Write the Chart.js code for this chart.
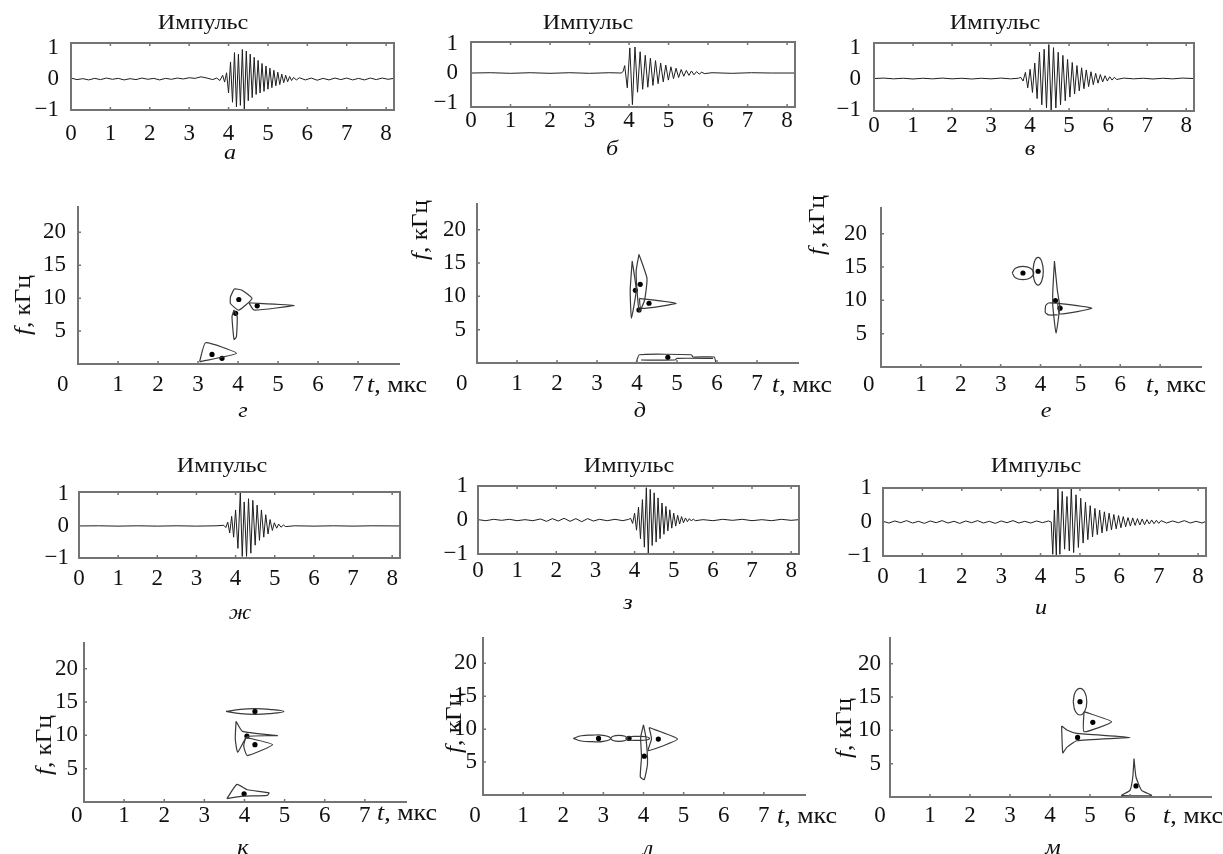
<!DOCTYPE html>
<html lang="ru">
<head>
<meta charset="utf-8">
<title>Импульсы</title>
<script src="https://cdn.jsdelivr.net/npm/chart.js@4.4.1/dist/chart.umd.min.js"></script>
<style>
  html, body { margin: 0; padding: 0; background: #fff; }
  body { position: relative; width: 1223px; height: 854px; overflow: hidden;
         font-family: "Liberation Serif", "Times New Roman", serif; color: #111; }
  canvas { position: absolute; }
  .lbl { position: absolute; font-size: 22px; line-height: 1; white-space: nowrap; transform: translate(-50%, -50%) scaleX(1.1); }
  .sub { font-style: italic; }
  .rot { font-size: 24px; transform: translate(-50%, -50%) rotate(-90deg) scaleX(1.05); }
  .left { font-size: 24px; transform-origin: 0 50%; transform: translate(0, -50%) scaleX(1.08); }
</style>
</head>
<body>
<script>
// signals "Импульс", [t, amplitude]
const sigA = [[0,0.03],[0.15,-0.02],[0.3,0.01],[0.45,-0.03],[0.6,0.02],[0.75,-0.02],[0.9,0.03],[1.05,-0.01],[1.2,0.02],[1.35,-0.03],[1.5,0.01],[1.65,-0.02],[1.8,0.03],[1.95,-0.01],[2.1,0.02],[2.25,-0.03],[2.4,0.02],[2.55,-0.01],[2.7,0.03],[2.85,0.0],[3.0,0.04],[3.15,0.02],[3.3,0.07],[3.45,0.03],[3.6,-0.02],[3.7,0.03],[3.78,-0.05],[3.85,0.12],[3.9,-0.1],[3.95,0.2],
  [4.0,-0.45],[4.05,0.55],[4.1,-0.75],[4.15,0.85],[4.2,-0.9],[4.25,0.8],[4.3,-0.85],[4.35,0.95],[4.4,-1.0],[4.45,0.9],[4.5,-0.7],[4.55,0.8],[4.6,-0.6],[4.65,0.7],[4.7,-0.5],[4.75,0.6],[4.8,-0.45],[4.85,0.5],[4.9,-0.4],[4.95,0.42],[5.0,-0.33],[5.05,0.35],[5.1,-0.28],[5.15,0.28],[5.2,-0.22],[5.25,0.22],[5.3,-0.18],[5.35,0.16],[5.4,-0.12],[5.45,0.12],[5.5,-0.09],[5.55,0.08],[5.6,-0.05],[5.65,0.05],
  [5.72,-0.03],[5.8,0.04],[5.95,-0.03],[6.1,0.03],[6.25,-0.04],[6.4,0.02],[6.55,-0.03],[6.7,0.03],[6.85,-0.02],[7.0,0.03],[7.15,-0.03],[7.3,0.02],[7.45,-0.03],[7.6,0.03],[7.75,-0.02],[7.9,0.03],[8.05,-0.01],[8.2,0.02]];

const sigB = [[0,0],[0.5,0.01],[1,-0.01],[1.5,0.01],[2,-0.01],[2.5,0.01],[3,-0.01],[3.5,0.01],[3.8,0],[3.85,0.05],
  [3.89,0.25],[3.955,-0.5],[4.02,0.85],[4.085,-1.07],[4.15,0.88],[4.215,-0.65],[4.28,0.72],[4.345,-0.55],[4.41,0.6],[4.475,-0.48],[4.54,0.5],[4.605,-0.42],[4.67,0.42],[4.735,-0.36],[4.8,0.34],[4.865,-0.3],[4.93,0.27],[4.995,-0.24],[5.06,0.21],[5.125,-0.19],[5.19,0.16],[5.255,-0.15],[5.32,0.12],[5.385,-0.11],[5.45,0.09],[5.515,-0.08],[5.58,0.07],[5.645,-0.06],[5.71,0.05],[5.775,-0.04],[5.84,0.03],[5.905,-0.02],
  [6.1,0.01],[6.6,-0.01],[7.1,0.01],[7.6,0],[8.2,0]];

const sigV = [[0,0],[0.25,0.015],[0.5,-0.01],[0.75,0.01],[1,-0.015],[1.25,0.01],[1.5,-0.01],[1.75,0.015],[2,-0.01],[2.25,0.01],[2.5,-0.015],[2.75,0.01],[3,-0.01],[3.25,0.015],[3.5,-0.01],[3.7,0.01],
  [3.76,0.04],[3.82,-0.08],[3.88,0.2],[3.94,-0.3],[4.0,0.3],[4.06,-0.45],[4.12,0.5],[4.18,-0.65],[4.24,0.85],[4.3,-0.85],[4.36,0.95],[4.42,-0.95],[4.48,1.1],[4.54,-1.05],[4.6,1.0],[4.66,-0.95],[4.72,0.85],[4.78,-0.85],[4.84,0.75],[4.9,-0.72],[4.96,0.62],[5.02,-0.6],[5.08,0.52],[5.14,-0.5],[5.2,0.42],[5.26,-0.4],[5.32,0.35],[5.38,-0.33],[5.44,0.28],[5.5,-0.26],[5.56,0.22],[5.62,-0.2],[5.68,0.17],[5.74,-0.15],[5.8,0.13],[5.86,-0.11],[5.92,0.09],[5.98,-0.08],[6.04,0.06],[6.1,-0.05],[6.16,0.04],[6.22,-0.03],
  [6.4,0.015],[6.65,-0.01],[6.9,0.01],[7.15,-0.015],[7.4,0.01],[7.65,-0.01],[7.9,0.015],[8.2,0]];

const sigZh = [[0,0],[0.5,0.005],[1,-0.005],[1.5,0.005],[2,-0.005],[2.5,0.005],[3,-0.005],[3.5,0.005],
  [3.7,0.02],[3.75,-0.05],[3.8,0.12],[3.85,-0.22],[3.9,0.3],[3.95,-0.35],[4.0,0.5],[4.06,-0.7],[4.12,1.05],[4.17,-0.95],[4.22,0.75],[4.28,-0.95],[4.33,0.85],[4.39,-0.85],[4.44,0.8],[4.5,-0.6],[4.55,0.65],[4.61,-0.45],[4.66,0.5],[4.72,-0.35],[4.77,0.35],[4.83,-0.25],[4.88,0.2],[4.94,-0.14],[4.99,0.1],[5.05,-0.07],[5.1,0.06],[5.16,-0.04],[5.22,0.03],[5.28,-0.02],
  [5.5,0.005],[6,-0.005],[6.5,0.005],[7,-0.005],[7.5,0.005],[8.2,0]];

const sigZ = [[0,0.01],[0.2,-0.02],[0.4,0.02],[0.6,-0.01],[0.8,0.02],[1.0,-0.02],[1.2,0.01],[1.4,-0.02],[1.6,0.03],[1.75,-0.04],[1.9,0.04],[2.05,-0.03],[2.2,0.05],[2.35,-0.04],[2.5,0.04],[2.65,-0.05],[2.8,0.04],[2.95,-0.03],[3.1,0.02],[3.3,-0.02],[3.5,0.02],[3.7,-0.02],[3.85,0.02],
  [3.9,0.05],[3.95,-0.1],[4.0,0.2],[4.05,-0.3],[4.1,0.38],[4.15,-0.55],[4.2,0.6],[4.25,-0.8],[4.3,0.95],[4.35,-1.0],[4.4,0.9],[4.45,-0.75],[4.5,0.8],[4.55,-0.65],[4.6,0.65],[4.65,-0.55],[4.7,0.5],[4.75,-0.42],[4.8,0.4],[4.85,-0.32],[4.9,0.3],[4.95,-0.24],[5.0,0.2],[5.05,-0.18],[5.1,0.14],[5.15,-0.12],[5.2,0.1],[5.25,-0.08],[5.3,0.06],[5.35,-0.05],[5.4,0.04],[5.45,-0.03],[5.5,0.03],[5.55,-0.02],
  [5.75,0.01],[6.0,-0.02],[6.25,0.02],[6.5,-0.01],[6.75,0.02],[7.0,-0.02],[7.25,0.01],[7.5,-0.02],[7.75,0.02],[8.0,-0.01],[8.2,0.01]];

const sigI = [[0,0.02],[0.15,-0.03],[0.3,0.03],[0.45,-0.02],[0.6,0.04],[0.75,-0.03],[0.9,0.02],[1.05,-0.04],[1.2,0.03],[1.35,-0.02],[1.5,0.04],[1.65,-0.03],[1.8,0.02],[1.95,-0.04],[2.1,0.03],[2.25,-0.02],[2.4,0.04],[2.55,-0.03],[2.7,0.02],[2.85,-0.04],[3.0,0.03],[3.15,-0.02],[3.3,0.04],[3.45,-0.03],[3.6,0.02],[3.75,-0.03],[3.9,0.03],[4.05,-0.02],[4.2,0.03],[4.27,0.0],
  [4.31,-0.95],[4.35,0.35],[4.4,-0.98],[4.44,1.0],[4.49,-0.95],[4.55,0.9],[4.61,-0.8],[4.67,0.75],[4.73,-0.85],[4.78,1.0],[4.84,-0.9],[4.9,0.8],[4.96,-0.75],[5.02,0.7],[5.08,-0.62],[5.14,0.58],[5.2,-0.52],[5.26,0.48],[5.32,-0.44],[5.38,0.4],[5.44,-0.37],[5.5,0.35],[5.56,-0.32],[5.62,0.3],[5.68,-0.27],[5.74,0.26],[5.8,-0.23],[5.86,0.22],[5.92,-0.2],[5.98,0.19],[6.04,-0.17],[6.1,0.16],[6.16,-0.14],[6.22,0.13],[6.28,-0.12],[6.34,0.12],[6.4,-0.1],[6.46,0.1],[6.52,-0.09],[6.58,0.09],[6.64,-0.08],[6.7,0.07],[6.76,-0.06],[6.82,0.06],[6.88,-0.05],[6.94,0.05],[7.0,-0.04],[7.06,0.04],
  [7.2,-0.03],[7.35,0.03],[7.5,-0.02],[7.65,0.04],[7.8,-0.03],[7.95,0.02],[8.1,-0.03],[8.2,0.02]];

// time-frequency maps: outlines, ovals and centre dots as [t, f]
const outlineG = [
  [[3.81,10.2],[3.91,11.4],[4.10,11.2],[4.35,9.95],[4.02,8.18],[3.81,9.19],[3.81,10.2]],
  [[4.27,9.3],[5.40,8.9],[4.40,8.2],[4.27,9.3]],
  [[3.90,8.2],[3.98,7.2],[3.96,4.1],[3.90,3.75],[3.85,7.2],[3.90,8.2]],
  [[3.04,0.35],[3.19,3.23],[3.96,1.62],[3.04,0.35]]
];
const dotsG = [[4.02,9.8],[3.94,7.7],[4.48,8.84],[3.35,1.46],[3.6,0.86]];

const outlineD = [
  [[3.88,15.3],[3.98,10.9],[3.86,6.7],[3.83,10.9],[3.88,15.3]],
  [[4.05,16.3],[4.25,12.7],[4.19,9.45],[4.06,7.7],[4.0,10.9],[3.98,13.9],[4.05,16.3]],
  [[4.06,9.7],[4.98,8.96],[4.1,8.2],[4.06,9.7]],
  [[3.98,0.1],[4.06,1.24],[5.36,1.24],[5.4,0.9],[5.93,0.9],[5.97,0.1]],
  [[4.1,0.45],[4.95,0.45],[5.0,0.7],[5.9,0.7]]
];
const dotsD = [[3.96,10.9],[4.08,11.8],[4.3,8.96],[4.05,7.96],[4.77,0.85]];

const ovalE = [
  [[3.29,14.1],[3.37,14.81],[3.56,15.1],[3.75,14.81],[3.83,14.1],[3.75,13.39],[3.56,13.1],[3.37,13.39],[3.29,14.1]],
  [[3.81,14.36],[3.85,15.82],[3.94,16.43],[4.03,15.82],[4.07,14.36],[4.03,12.9],[3.94,12.29],[3.85,12.9],[3.81,14.36]]
];
const outlineE = [
  [[4.35,15.9],[4.42,11.6],[4.48,9.07],[4.39,5.04],[4.31,9.07],[4.31,11.6],[4.35,15.9]],
  [[4.43,9.57],[4.2,9.6],[4.13,9.2],[4.12,8.2],[4.2,7.81],[4.43,7.81]],
  [[4.43,9.57],[5.29,8.82],[4.48,7.96],[4.43,9.57]]
];
const dotsE = [[3.56,14.1],[3.94,14.36],[4.375,9.97],[4.49,8.82]];

const ovalK = [
  [[3.54,13.58],[3.9,13.9],[4.26,14.0],[4.62,13.9],[4.98,13.58],[4.62,13.25],[4.26,13.15],[3.9,13.25],[3.54,13.58]]
];
const outlineK = [
  [[3.79,12.1],[3.95,10.6],[4.82,9.95],[4.07,9.8],[3.83,7.46],[3.77,9.5],[3.79,12.1]],
  [[4.03,9.7],[4.7,8.6],[4.07,6.97],[3.98,8.4],[4.03,9.7]],
  [[3.56,0.5],[3.81,2.64],[4.07,1.84],[4.61,1.39],[4.57,1.0],[3.91,0.85],[3.56,0.5]]
];
const dotsK = [[4.26,13.58],[4.06,9.9],[4.26,8.6],[3.99,1.24]];

const ovalL = [
  [[2.25,8.6],[2.45,9.0],[2.72,9.1],[3.0,9.05],[3.18,8.6],[3.0,8.15],[2.72,8.1],[2.45,8.2],[2.25,8.6]],
  [[3.18,8.6],[3.24,8.92],[3.39,9.05],[3.54,8.92],[3.6,8.6],[3.54,8.28],[3.39,8.15],[3.24,8.28],[3.18,8.6]],
  [[3.55,8.6],[3.64,8.85],[3.85,8.9],[4.06,8.85],[4.15,8.6],[4.06,8.35],[3.85,8.3],[3.64,8.35],[3.55,8.6]]
];
const outlineL = [
  [[4.0,10.65],[4.06,8.75],[4.1,4.75],[4.02,2.35],[3.92,2.75],[3.95,5.75],[3.93,8.75],[4.0,10.65]],
  [[4.14,10.25],[4.85,8.5],[4.12,6.75],[4.2,8.5],[4.14,10.25]]
];
const dotsL = [[2.88,8.6],[3.64,8.6],[4.02,5.9],[4.37,8.5]];

const ovalM = [
  [[4.58,14.3],[4.63,15.71],[4.75,16.3],[4.87,15.71],[4.92,14.3],[4.87,12.89],[4.75,12.3],[4.63,12.89],[4.58,14.3]]
];
const outlineM = [
  [[4.85,12.8],[5.54,11.3],[4.85,9.8],[4.85,12.8]],
  [[4.29,10.65],[4.42,10.05],[4.67,9.55],[6.0,8.94],[4.67,8.44],[4.42,7.44],[4.32,6.63],[4.29,10.65]],
  [[6.1,5.78],[6.15,3.0],[6.29,1.0],[6.54,0.25],[5.79,0.25],[6.0,1.0],[6.07,3.0],[6.1,5.78]]
];
const dotsM = [[4.75,14.3],[5.07,11.2],[4.69,8.94],[6.15,1.66]];

// tick values
const sigXTicks = [0, 1, 2, 3, 4, 5, 6, 7, 8];
const sigYTicks = [-1, 0, 1];
const tfXTicks = [1, 2, 3, 4, 5, 6, 7];
const tfXTicksShort = [1, 2, 3, 4, 5, 6];
const tfYTicks = [5, 10, 15, 20];

// layout
const ML = 70, MR = 50, MT = 32, MB = 44;
const LINE = '#1e1e1e', AXIS = '#747474';

Chart.defaults.font.family = '"Liberation Serif", "Times New Roman", serif';
Chart.defaults.font.size = 23;
Chart.defaults.color = '#111';

const sigPanels = [
  { data: sigA, box: [71, 43, 394, 110], yMin: -1, yMax: 1.16, padX: 10, padY: 12 },
  { data: sigB, box: [471, 42, 795, 107], yMin: -1.15, yMax: 1.05, padX: 0, padY: 13 },
  { data: sigV, box: [874, 43, 1194, 111], yMin: -1.05, yMax: 1.15, padX: 1, padY: 13 },
  { data: sigZh, box: [79, 492, 400, 558], yMin: -1, yMax: 1.06, padX: 7, padY: 10 },
  { data: sigZ, box: [478, 486, 799, 554], yMin: -1, yMax: 1, padX: 3, padY: 10 },
  { data: sigI, box: [883, 488, 1206, 556], yMin: -1, yMax: 1, padX: 7, padY: 11 }
];

const tfPanels = [
  { ovals: [], outlines: outlineG, dots: dotsG, box: [78, 206, 400, 364], zero: -0.38, xTicks: tfXTicks, padX: 7, padY: 12 },
  { ovals: [], outlines: outlineD, dots: dotsD, box: [477, 203, 799, 363], zero: -0.38, xTicks: tfXTicks, padX: 7, padY: 11 },
  { ovals: ovalE, outlines: outlineE, dots: dotsE, box: [881, 207, 1202, 367], zero: -0.31, xTicks: tfXTicksShort, padX: 4, padY: 14 },
  { ovals: ovalK, outlines: outlineK, dots: dotsK, box: [84, 642, 407, 802], zero: -0.18, xTicks: tfXTicks, padX: 0, padY: 6 },
  { ovals: ovalL, outlines: outlineL, dots: dotsL, box: [483, 637, 806, 795], zero: -0.2, xTicks: tfXTicks, padX: 7, padY: 6 },
  { ovals: ovalM, outlines: outlineM, dots: dotsM, box: [890, 637, 1212, 797], zero: -0.25, xTicks: tfXTicksShort, padX: 5, padY: 9 }
];

const titles = [[203, 22], [588, 22], [995, 22], [222, 465], [629, 465], [1036, 465]];
const subLabels = [['а', 230, 152], ['б', 612, 148], ['в', 1030, 148], ['г', 243, 410], ['д', 640, 410], ['е', 1046, 410],
                   ['ж', 240, 612], ['з', 628, 602], ['и', 1041, 607], ['к', 243, 847], ['л', 648, 848], ['м', 1053, 847]];
const fTitles = [[22, 305], [419, 230], [816, 225], [43, 745], [453, 723], [843, 728]];
const tTitles = [[367, 384], [772, 384], [1146, 384], [377, 812], [777, 815], [1163, 815]];

// box or L-shaped axes plus small inward tick marks
const framePlugin = {
  id: 'frame',
  afterDatasetsDraw(chart, args, opts) {
    const { ctx, chartArea: a, scales: { x, y } } = chart;
    ctx.save();
    ctx.strokeStyle = AXIS;
    ctx.lineWidth = 2;
    ctx.beginPath();
    if (opts.boxed) {
      ctx.rect(a.left, a.top, a.width, a.height);
    } else {
      ctx.moveTo(a.left, a.top);
      ctx.lineTo(a.left, a.bottom);
      ctx.lineTo(a.right, a.bottom);
    }
    ctx.stroke();
    ctx.lineWidth = 1.5;
    ctx.beginPath();
    opts.xMarks.forEach(v => {
      const px = x.getPixelForValue(v);
      ctx.moveTo(px, a.bottom);
      ctx.lineTo(px, a.bottom - 3);
      if (opts.boxed) { ctx.moveTo(px, a.top); ctx.lineTo(px, a.top + 3); }
    });
    opts.yMarks.forEach(v => {
      const py = y.getPixelForValue(v);
      ctx.moveTo(a.left, py);
      ctx.lineTo(a.left + 3, py);
    });
    ctx.stroke();
    ctx.restore();
  }
};

function addCanvas(box) {
  const [l, t, r, b] = box;
  const c = document.createElement('canvas');
  c.width = r - l + ML + MR;
  c.height = b - t + MT + MB;
  c.style.left = (l - ML) + 'px';
  c.style.top = (t - MT) + 'px';
  document.body.appendChild(c);
  return c;
}

function options(o) {
  return {
    responsive: false,
    animation: false,
    events: [],
    layout: { padding: { left: 0, top: MT, right: MR, bottom: 0 } },
    plugins: { legend: { display: false }, tooltip: { enabled: false },
               frame: { boxed: o.boxed, xMarks: o.xMarks, yMarks: o.yMarks } },
    scales: {
      x: {
        type: 'linear', min: 0, max: o.xMax,
        grid: { display: false, drawTicks: false }, border: { display: false },
        afterFit: s => { s.height = MB; },
        afterBuildTicks: s => { s.ticks = o.xTicks.map(v => ({ value: v })); },
        ticks: { padding: o.padX, maxRotation: 0, autoSkip: false, callback: v => v < 0 ? '0' : String(v) }
      },
      y: {
        type: 'linear', min: o.yMin, max: o.yMax,
        grid: { display: false, drawTicks: false }, border: { display: false },
        afterFit: s => { s.width = ML; },
        afterBuildTicks: s => { s.ticks = o.yTicks.map(v => ({ value: v })); },
        ticks: { padding: o.padY, autoSkip: false, callback: v => v < 0 ? '\u2212' + Math.abs(v) : String(v) }
      }
    }
  };
}

const toXY = pts => pts.map(([x, y]) => ({ x, y }));

sigPanels.forEach(p => {
  new Chart(addCanvas(p.box), {
    type: 'line',
    data: { datasets: [{ data: toXY(p.data), borderColor: LINE, borderWidth: 1, pointRadius: 0, tension: 0 }] },
    options: options({ boxed: true, xMax: 8.2, yMin: p.yMin, yMax: p.yMax, xTicks: sigXTicks, yTicks: sigYTicks,
                       padX: p.padX, padY: p.padY, xMarks: [1, 2, 3, 4, 5, 6, 7, 8], yMarks: [] }),
    plugins: [framePlugin]
  });
});

tfPanels.forEach(p => {
  const sets = [];
  p.ovals.forEach(s => sets.push({ data: toXY(s), borderColor: '#3a3a3a', borderWidth: 1.2, pointRadius: 0, tension: 0.45 }));
  p.outlines.forEach(s => sets.push({ data: toXY(s), borderColor: '#3a3a3a', borderWidth: 1.2, pointRadius: 0, tension: 0.15 }));
  sets.push({ data: toXY(p.dots), showLine: false, pointRadius: 2.6, pointBackgroundColor: '#000', pointBorderWidth: 0 });
  new Chart(addCanvas(p.box), {
    type: 'line',
    data: { datasets: sets },
    options: options({ boxed: false, xMax: 8.05, yMin: 0, yMax: 24, xTicks: [p.zero].concat(p.xTicks), yTicks: tfYTicks,
                       padX: p.padX, padY: p.padY, xMarks: tfXTicks, yMarks: tfYTicks }),
    plugins: [framePlugin]
  });
});

function addText(html, x, y, cls) {
  const d = document.createElement('div');
  d.className = 'lbl ' + cls;
  d.innerHTML = html;
  d.style.left = x + 'px';
  d.style.top = y + 'px';
  document.body.appendChild(d);
}

titles.forEach(([x, y]) => addText('Импульс', x, y, ''));
subLabels.forEach(([s, x, y]) => addText(s, x, y, 'sub'));
fTitles.forEach(([x, y]) => addText('<i>f</i>, кГц', x, y, 'rot'));
tTitles.forEach(([x, y]) => addText('<i>t</i>, мкс', x, y, 'left'));
</script>
</body>
</html>
